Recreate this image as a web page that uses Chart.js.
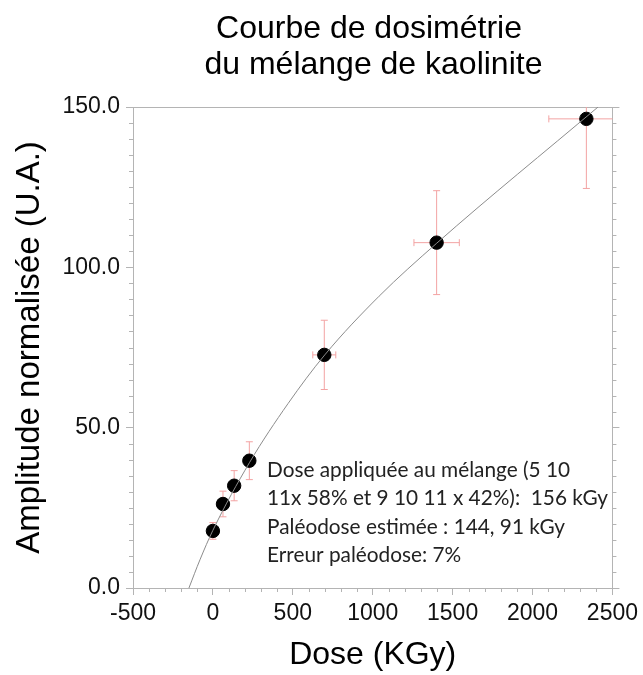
<!DOCTYPE html>
<html>
<head>
<title>Courbe de dosimétrie</title>
<script src="https://cdn.jsdelivr.net/npm/chart.js"></script>
<style>
  body { margin: 0; background: #fff; }
</style>
</head>
<body>
<canvas id="chart" width="643" height="675"></canvas>
<script>
// measured points (dose in kGy, normalised amplitude)
const doses = [0, 63, 133, 228, 697, 1400, 2337];
const amplitudes = [17.8, 26.2, 31.9, 39.7, 72.7, 107.7, 146.3];
const doseErrors = [0, 6, 13, 23, 72, 142, 235];
const amplitudeErrors = [2.6, 4.0, 4.7, 5.9, 10.8, 16.2, 21.7];

// fitted curve
const fitDoses = [-150, -81, 0, 230, 470, 700, 1040, 1400, 2410];
const fitAmplitudes = [0, 8.8, 18.0, 39.2, 57.5, 72.7, 91.0, 107.5, 150.0];

const xTickValues = [-500, 0, 500, 1000, 1500, 2000, 2500];
const yTickValues = [0, 50, 100, 150];
const xMinorStep = 100;
const yMinorStep = 5;

const titleLines = ['Courbe de dosimétrie', ' du mélange de kaolinite'];
const noteLines = [
  'Dose appliquée au mélange (5 10',
  '11x 58% et 9 10 11 x 42%):  156 kGy',
  'Paléodose estimée : 144, 91 kGy',
  'Erreur paléodose: 7%'
];

const sans = '"Liberation Sans", Arial, sans-serif';
const axisGray = '#b4b4b4';

// error bars drawn under the markers
const errorBars = {
  id: 'errorBars',
  beforeDatasetsDraw(chart) {
    const { ctx, chartArea: a, scales: { x, y } } = chart;
    ctx.save();
    ctx.beginPath();
    ctx.rect(a.left, a.top, a.right - a.left, a.bottom - a.top);
    ctx.clip();
    ctx.strokeStyle = '#f3a3a3';
    ctx.lineWidth = 1;
    const cap = 3.5;
    doses.forEach((d, i) => {
      const px = x.getPixelForValue(d);
      const py = y.getPixelForValue(amplitudes[i]);
      const yTop = y.getPixelForValue(amplitudes[i] + amplitudeErrors[i]);
      const yBot = y.getPixelForValue(amplitudes[i] - amplitudeErrors[i]);
      ctx.beginPath();
      ctx.moveTo(px, yTop); ctx.lineTo(px, yBot);
      ctx.moveTo(px - cap, yTop); ctx.lineTo(px + cap, yTop);
      ctx.moveTo(px - cap, yBot); ctx.lineTo(px + cap, yBot);
      if (doseErrors[i] > 0) {
        const xL = x.getPixelForValue(d - doseErrors[i]);
        const xR = x.getPixelForValue(d + doseErrors[i]);
        ctx.moveTo(xL, py); ctx.lineTo(xR, py);
        ctx.moveTo(xL, py - cap); ctx.lineTo(xL, py + cap);
        ctx.moveTo(xR, py - cap); ctx.lineTo(xR, py + cap);
      }
      ctx.stroke();
    });
    ctx.restore();
  }
};

// minor ticks + title + note text
const decorations = {
  id: 'decorations',
  afterDraw(chart) {
    const { ctx, chartArea: a, scales: { x, y } } = chart;
    ctx.save();
    ctx.strokeStyle = axisGray;
    ctx.lineWidth = 1;
    ctx.beginPath();
    for (let v = x.min; v <= x.max; v += xMinorStep) {
      if (xTickValues.includes(v)) continue;
      const px = Math.round(x.getPixelForValue(v)) + 0.5;
      ctx.moveTo(px, a.bottom); ctx.lineTo(px, a.bottom + 4);
    }
    for (let v = y.min; v <= y.max; v += yMinorStep) {
      if (yTickValues.includes(v)) continue;
      const py = Math.round(y.getPixelForValue(v)) + 0.5;
      ctx.moveTo(a.left - 4, py); ctx.lineTo(a.left, py);
      ctx.moveTo(a.right, py); ctx.lineTo(a.right + 4, py);
    }
    ctx.stroke();

    ctx.fillStyle = '#000';
    ctx.textAlign = 'center';
    ctx.textBaseline = 'alphabetic';
    ctx.font = '32px ' + sans;
    ctx.fillText(titleLines[0], 369, 38);
    ctx.fillText(titleLines[1], 369, 74);

    ctx.fillStyle = '#222';
    ctx.textAlign = 'left';
    ctx.textBaseline = 'middle';
    ctx.font = '20.8px Lato, "Open Sans", sans-serif';
    noteLines.forEach((t, i) => ctx.fillText(t, 267, 470 + i * 28.5));
    ctx.restore();
  }
};

new Chart(document.getElementById('chart'), {
  type: 'scatter',
  data: {
    datasets: [
      {
        label: 'Ajustement',
        type: 'line',
        data: fitDoses.map((d, i) => ({ x: d, y: fitAmplitudes[i] })),
        borderColor: '#8c8c8c',
        borderWidth: 1,
        pointRadius: 0,
        fill: false,
        cubicInterpolationMode: 'monotone'
      },
      {
        label: 'Mélange de kaolinite',
        data: doses.map((d, i) => ({ x: d, y: amplitudes[i] })),
        backgroundColor: '#000',
        borderColor: '#000',
        pointRadius: 6.7,
        clip: false
      }
    ]
  },
  options: {
    responsive: false,
    animation: false,
    layout: { padding: { top: 107, left: 0, right: 0, bottom: 0 } },
    plugins: {
      legend: { display: false },
      tooltip: { enabled: false }
    },
    scales: {
      x: {
        type: 'linear',
        position: 'bottom',
        min: -500,
        max: 2500,
        afterBuildTicks: s => { s.ticks = xTickValues.map(v => ({ value: v })); },
        afterFit: s => { s.height = 87; },
        border: { display: true, color: axisGray, width: 1 },
        grid: { drawOnChartArea: false, drawTicks: true, tickLength: 7, tickColor: axisGray },
        ticks: { color: '#111', font: { family: sans, size: 23 }, padding: 5, maxRotation: 0, callback: v => String(v) },
        title: { display: true, text: 'Dose (KGy)', color: '#000', font: { family: sans, size: 32 }, padding: { top: 0, bottom: 1 } }
      },
      x2: {
        type: 'linear',
        position: 'top',
        min: -500,
        max: 2500,
        afterFit: s => { s.height = 0; },
        border: { display: true, color: axisGray, width: 1 },
        grid: { display: false },
        ticks: { display: false }
      },
      y: {
        type: 'linear',
        position: 'left',
        min: 0,
        max: 150,
        afterBuildTicks: s => { s.ticks = yTickValues.map(v => ({ value: v })); },
        afterFit: s => { s.width = 133; },
        border: { display: true, color: axisGray, width: 1 },
        grid: { drawOnChartArea: false, drawTicks: true, tickLength: 7, tickColor: axisGray },
        ticks: { color: '#111', font: { family: sans, size: 23 }, padding: 6, callback: v => v.toFixed(1) },
        title: { display: true, text: 'Amplitude normalisée (U.A.)', color: '#000', font: { family: sans, size: 33 }, padding: { top: 10, bottom: 0 } }
      },
      y2: {
        type: 'linear',
        position: 'right',
        min: 0,
        max: 150,
        afterBuildTicks: s => { s.ticks = yTickValues.map(v => ({ value: v })); },
        afterFit: s => { s.width = 30; },
        border: { display: true, color: axisGray, width: 1 },
        grid: { drawOnChartArea: false, drawTicks: true, tickLength: 7, tickColor: axisGray },
        ticks: { display: false }
      }
    }
  },
  plugins: [errorBars, decorations]
});
</script>
</body>
</html>
